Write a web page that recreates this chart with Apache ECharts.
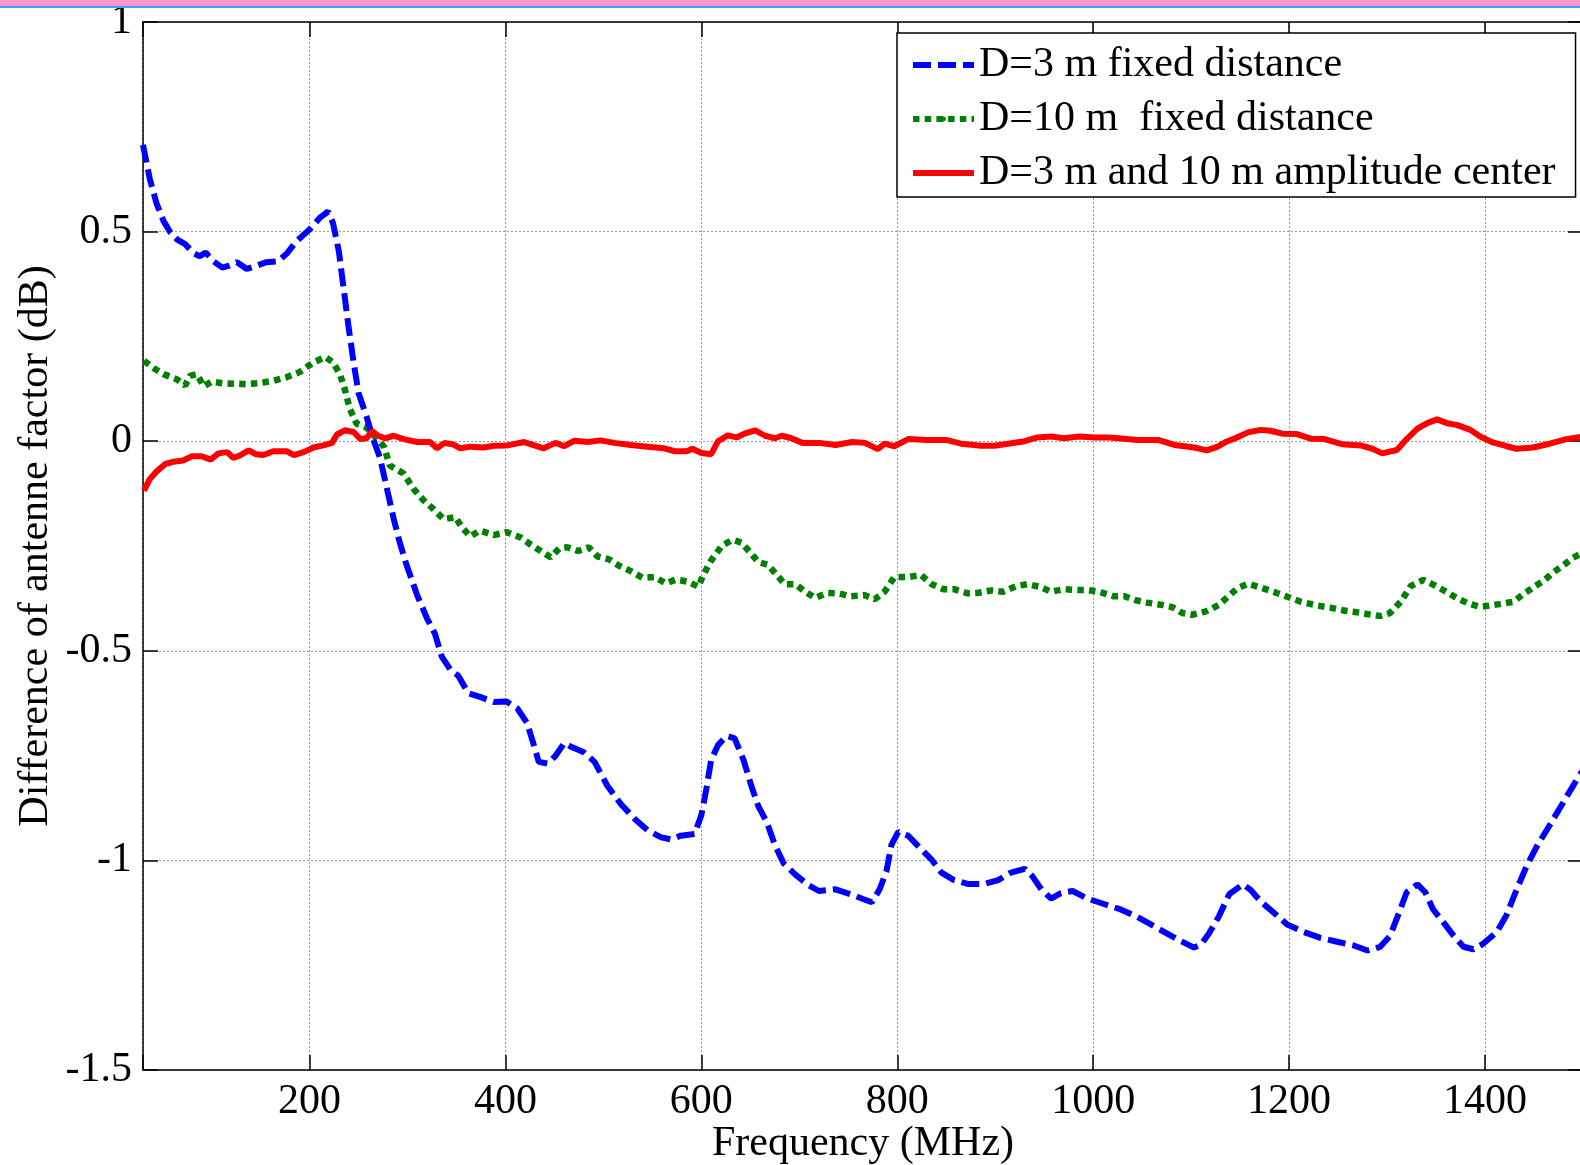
<!DOCTYPE html>
<html>
<head>
<meta charset="utf-8">
<script src="https://cdn.jsdelivr.net/npm/echarts@6/dist/echarts.min.js"></script>
<style>
html,body{margin:0;padding:0;background:#fff;}
#chart{width:1580px;height:1165px;}
</style>
</head>
<body>
<div id="chart"></div>
<script>
// ---- data ----
var seriesNames = ['D=3 m fixed distance', 'D=10 m  fixed distance', 'D=3 m and 10 m amplitude center'];
var xTickValues = [200, 400, 600, 800, 1000, 1200, 1400];
var yTickValues = [-1.5, -1, -0.5, 0, 0.5, 1];

var d3Freq = [30,37,44,51,58,65,73,82,88,94,102,111,117,126,136,145,156,168,177,187,200,211,219,224,230,235,240,245,250,258,265,272,279,286,292,299,310,320,328,335,344,352,362,374,388,401,412,422,429,434,443,451,460,467,480,491,504,518,532,545,559,569,579,593,600,605,610,617,626,634,643,651,658,667,675,684,696,710,720,737,754,765,774,782,789,794,801,811,824,835,845,858,872,889,903,916,930,938,947,957,967,979,994,1011,1028,1045,1062,1076,1089,1103,1110,1118,1128,1139,1153,1161,1171,1185,1198,1215,1232,1249,1266,1280,1293,1303,1312,1320,1331,1339,1347,1358,1368,1378,1388,1398,1412,1422,1432,1442,1453,1466,1480,1495,1500];
var d3Val = [0.707,0.625,0.566,0.525,0.498,0.481,0.470,0.448,0.441,0.450,0.429,0.414,0.418,0.427,0.411,0.418,0.427,0.429,0.448,0.478,0.505,0.534,0.548,0.520,0.452,0.361,0.270,0.188,0.115,0.060,0.005,-0.040,-0.113,-0.186,-0.241,-0.295,-0.368,-0.423,-0.459,-0.514,-0.546,-0.560,-0.601,-0.610,-0.622,-0.621,-0.637,-0.672,-0.725,-0.765,-0.769,-0.751,-0.720,-0.729,-0.742,-0.765,-0.822,-0.866,-0.901,-0.928,-0.945,-0.950,-0.941,-0.937,-0.892,-0.831,-0.760,-0.725,-0.703,-0.709,-0.760,-0.822,-0.870,-0.910,-0.963,-1.007,-1.034,-1.060,-1.073,-1.069,-1.082,-1.092,-1.100,-1.069,-1.025,-0.963,-0.932,-0.941,-0.972,-0.998,-1.029,-1.047,-1.056,-1.056,-1.047,-1.029,-1.020,-1.038,-1.069,-1.091,-1.078,-1.073,-1.091,-1.104,-1.117,-1.135,-1.157,-1.175,-1.192,-1.208,-1.201,-1.175,-1.135,-1.080,-1.057,-1.071,-1.098,-1.126,-1.153,-1.171,-1.185,-1.194,-1.203,-1.215,-1.206,-1.180,-1.126,-1.076,-1.057,-1.076,-1.117,-1.149,-1.180,-1.206,-1.212,-1.199,-1.171,-1.130,-1.071,-1.016,-0.966,-0.916,-0.861,-0.802,-0.785];

var d10Freq = [31,41,51,65,73,78,85,92,100,112,126,136,150,163,177,190,204,216,224,231,236,241,248,258,265,276,282,296,306,316,327,337,349,355,364,374,388,401,415,426,436,446,455,463,474,485,494,506,516,528,540,552,564,574,586,597,602,609,621,632,641,650,658,668,677,685,696,706,716,728,740,752,766,777,787,797,811,824,835,847,858,872,882,896,908,921,933,945,957,970,984,994,1006,1021,1032,1043,1055,1069,1081,1091,1101,1115,1128,1137,1147,1158,1171,1185,1198,1212,1229,1242,1256,1269,1281,1293,1303,1314,1324,1337,1347,1361,1371,1383,1395,1405,1419,1429,1439,1451,1461,1469,1480,1490,1500];
var d10Val = [0.192,0.174,0.160,0.147,0.133,0.156,0.160,0.131,0.142,0.138,0.137,0.136,0.139,0.144,0.153,0.165,0.188,0.201,0.188,0.160,0.124,0.078,0.042,0.033,0.015,-0.013,-0.058,-0.077,-0.113,-0.140,-0.163,-0.186,-0.181,-0.204,-0.227,-0.213,-0.224,-0.217,-0.229,-0.247,-0.262,-0.277,-0.256,-0.253,-0.262,-0.253,-0.275,-0.282,-0.297,-0.310,-0.326,-0.324,-0.339,-0.330,-0.335,-0.347,-0.319,-0.288,-0.249,-0.235,-0.242,-0.266,-0.288,-0.295,-0.319,-0.341,-0.341,-0.359,-0.374,-0.362,-0.363,-0.370,-0.367,-0.377,-0.359,-0.324,-0.324,-0.319,-0.341,-0.353,-0.353,-0.363,-0.362,-0.356,-0.359,-0.346,-0.341,-0.347,-0.359,-0.353,-0.355,-0.355,-0.359,-0.370,-0.370,-0.379,-0.385,-0.390,-0.396,-0.410,-0.414,-0.406,-0.391,-0.372,-0.351,-0.340,-0.349,-0.360,-0.371,-0.383,-0.392,-0.397,-0.404,-0.408,-0.413,-0.417,-0.410,-0.383,-0.346,-0.331,-0.342,-0.360,-0.374,-0.387,-0.395,-0.392,-0.387,-0.383,-0.365,-0.346,-0.331,-0.314,-0.296,-0.278,-0.265];

var cFreq = [31,37,44,53,61,71,80,90,99,107,116,122,129,138,145,153,163,177,184,194,204,214,223,228,236,245,252,258,264,270,277,286,296,310,323,330,338,347,354,364,378,388,402,419,439,451,460,470,484,497,511,528,545,562,573,585,591,600,610,617,627,636,644,655,665,675,682,692,703,720,737,754,767,780,787,797,811,831,850,865,886,899,913,930,943,957,970,986,1001,1016,1026,1045,1066,1083,1103,1116,1127,1137,1144,1158,1171,1181,1193,1208,1222,1236,1254,1273,1285,1295,1310,1320,1331,1341,1351,1361,1371,1385,1395,1408,1422,1432,1449,1466,1483,1500];
var cVal = [-0.118,-0.090,-0.072,-0.054,-0.049,-0.046,-0.036,-0.036,-0.044,-0.029,-0.026,-0.040,-0.034,-0.022,-0.031,-0.033,-0.024,-0.024,-0.033,-0.026,-0.015,-0.010,-0.004,0.016,0.026,0.022,0.005,0.007,0.024,0.013,0.007,0.013,0.005,-0.002,-0.002,-0.017,-0.004,-0.008,-0.017,-0.013,-0.015,-0.011,-0.010,-0.002,-0.017,-0.004,-0.012,0.001,-0.002,0.002,-0.004,-0.009,-0.013,-0.017,-0.024,-0.024,-0.018,-0.028,-0.031,0.000,0.014,0.009,0.018,0.026,0.013,0.007,0.013,0.007,-0.004,-0.004,-0.009,-0.002,-0.004,-0.019,-0.006,-0.012,0.005,0.003,0.003,-0.006,-0.011,-0.011,-0.006,0.000,0.009,0.011,0.007,0.011,0.009,0.009,0.007,0.003,0.003,-0.009,-0.015,-0.022,-0.013,0.000,0.006,0.021,0.027,0.025,0.018,0.017,0.006,0.005,-0.007,-0.010,-0.018,-0.029,-0.021,0.005,0.030,0.043,0.052,0.043,0.039,0.027,0.011,-0.003,-0.012,-0.018,-0.015,-0.006,0.005,0.011];

function pairs(xs, ys) { return xs.map(function (x, i) { return [x, ys[i]]; }); }

var FONT = '"Liberation Serif", "Times New Roman", serif';
var chart = echarts.init(document.getElementById('chart'), null, {renderer: 'canvas'});

var xCommon = {
  type: 'value', min: 30, max: 1500, splitNumber: 7,
  axisLine: {show: true, onZero: false, lineStyle: {color: '#000', width: 1.5}},
  axisTick: {show: true, inside: true, length: 15, lineStyle: {color: '#000', width: 1.5}}
};
var yCommon = {
  type: 'value', min: -1.5, max: 1, interval: 0.5,
  axisLine: {show: true, onZero: false, lineStyle: {color: '#000', width: 1.5}},
  axisTick: {show: true, inside: true, length: 15, lineStyle: {color: '#000', width: 1.5}}
};

var option = {
  animation: false,
  backgroundColor: '#fff',
  textStyle: {fontFamily: FONT},
  grid: {left: 143, top: 22, width: 1440, height: 1048, containLabel: false, outerBoundsMode: 'none'},
  xAxis: [
    Object.assign({}, xCommon, {
      position: 'bottom',
      name: 'Frequency (MHz)', nameLocation: 'middle', nameGap: 53, nameMoveOverlap: false,
      nameTextStyle: {fontFamily: FONT, fontSize: 42, color: '#000'},
      axisLabel: {
        fontFamily: FONT, fontSize: 42, color: '#000', margin: 11,
        formatter: function (v) { return xTickValues.indexOf(v) >= 0 ? String(v) : ''; }
      },
      splitLine: {show: true, lineStyle: {color: '#9a9a9a', width: 1, type: [2, 2]}}
    }),
    Object.assign({}, xCommon, {
      position: 'top', axisLabel: {show: false}, splitLine: {show: false}
    })
  ],
  yAxis: [
    Object.assign({}, yCommon, {
      position: 'left',
      name: 'Difference of antenne factor (dB)', nameLocation: 'middle', nameGap: 86, nameMoveOverlap: false,
      nameTextStyle: {fontFamily: FONT, fontSize: 42, color: '#000'},
      axisLabel: {
        fontFamily: FONT, fontSize: 42, color: '#000', margin: 11,
        formatter: function (v) { return yTickValues.indexOf(v) >= 0 ? String(v) : ''; }
      },
      splitLine: {show: true, lineStyle: {color: '#9a9a9a', width: 1, type: [2, 2]}}
    }),
    Object.assign({}, yCommon, {
      position: 'right', axisLabel: {show: false}, splitLine: {show: false}
    })
  ],
  legend: {
    orient: 'vertical', left: 897, top: 33,
    padding: [11, 20, 3, 13], itemGap: 12, itemWidth: 61, itemHeight: 6,
    backgroundColor: '#fff', borderColor: '#000', borderWidth: 1.5, borderRadius: 0,
    lineStyle: {width: 6},
    textStyle: {fontFamily: FONT, fontSize: 42, color: '#000', lineHeight: 42},
    data: seriesNames
  },
  graphic: [
    {type: 'rect', left: 0, top: 0, z: 100, shape: {x: 0, y: 0, width: 1580, height: 6}, style: {fill: '#ff99cc'}},
    {type: 'rect', left: 0, top: 6, z: 100, shape: {x: 0, y: 0, width: 1580, height: 2}, style: {fill: '#33aaee'}}
  ],
  series: [
    {
      name: seriesNames[0], type: 'line', data: pairs(d3Freq, d3Val),
      symbol: 'circle', showSymbol: false, symbolSize: 4, smooth: false, z: 3,
      itemStyle: {color: '#0000ff'},
      lineStyle: {color: '#0000ff', width: 6, type: [18, 7]}
    },
    {
      name: seriesNames[1], type: 'line', data: pairs(d10Freq, d10Val),
      symbol: 'circle', showSymbol: false, symbolSize: 4, smooth: false, z: 2,
      itemStyle: {color: '#008000'},
      lineStyle: {color: '#008000', width: 6.5, type: [6.5, 5.2]}
    },
    {
      name: seriesNames[2], type: 'line', data: pairs(cFreq, cVal),
      symbol: 'circle', showSymbol: false, symbolSize: 4, smooth: false, z: 4,
      itemStyle: {color: '#ff0000'},
      lineStyle: {color: '#ff0000', width: 6, type: 'solid'}
    }
  ]
};
chart.setOption(option);
</script>
</body>
</html>
